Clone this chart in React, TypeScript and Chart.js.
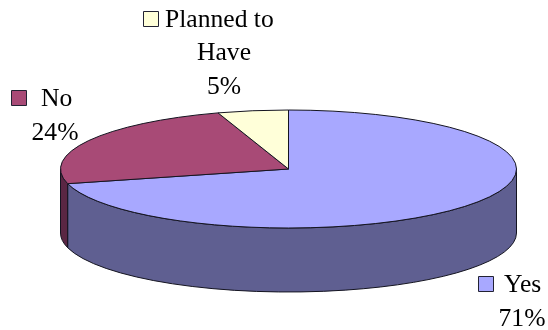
import React, { useEffect, useRef } from "react";
import { Chart, registerables } from "chart.js";

Chart.register(...registerables);

// Survey answers, in drawing order clockwise from twelve o'clock
const categories = ["Yes", "No", "Planned to Have"];
const shares = [71, 24, 5];
const labelLines = [["Yes"], ["No"], ["Planned to", "Have"]];
const topColors = ["#A8A8FF", "#A84A76", "#FFFFD9"];
const sideColors = ["#5F5F91", "#5A2643", "#8F8F78"];

// Tilted disc proportions on the canvas
const DISC = { rx: 228, ry: 59, depth: 64 };
const FONT = "25.6px 'Liberation Serif'";
const LINE_HEIGHT = 33.5;

// Per-slice label block: key square and first text baseline
const labelBlocks = [
  { keyX: 478.5, keyY: 276.5, keyW: 15, textX: 504, centerX: 522, baseline: 292 },
  { keyX: 11.5, keyY: 90.5, keyW: 15, textX: 41, centerX: 55, baseline: 106 },
  { keyX: 143.5, keyY: 11.5, keyW: 15, textX: 165, centerX: 224, baseline: 26.5 },
];

// Paints the pie's arc elements as an extruded ellipse, with their labels
const tiltedPie = {
  id: "tiltedPie",
  beforeDatasetDraw(chart: any) {
    const ctx: CanvasRenderingContext2D = chart.ctx;
    const arcs = chart.getDatasetMeta(0).data;
    const { rx, ry, depth } = DISC;
    ctx.save();
    ctx.lineWidth = 1;
    ctx.strokeStyle = "#141420";
    ctx.lineJoin = "round";

    arcs.forEach((arc: any, i: number) => {
      const a0 = Math.max(arc.startAngle, 0);
      const a1 = Math.min(arc.endAngle, Math.PI);
      if (a1 <= a0) return;
      ctx.beginPath();
      ctx.ellipse(arc.x, arc.y, rx, ry, 0, a0, a1);
      ctx.ellipse(arc.x, arc.y + depth, rx, ry, 0, a1, a0, true);
      ctx.closePath();
      ctx.fillStyle = sideColors[i];
      ctx.fill();
      ctx.stroke();
    });

    arcs.forEach((arc: any, i: number) => {
      ctx.beginPath();
      ctx.moveTo(arc.x, arc.y);
      ctx.ellipse(arc.x, arc.y, rx, ry, 0, arc.startAngle, arc.endAngle);
      ctx.closePath();
      ctx.fillStyle = topColors[i];
      ctx.fill();
      ctx.stroke();
    });

    ctx.font = FONT;
    ctx.textBaseline = "alphabetic";
    labelBlocks.forEach((b, i) => {
      ctx.fillStyle = topColors[i];
      ctx.strokeStyle = "#222233";
      ctx.fillRect(b.keyX, b.keyY, b.keyW, b.keyW);
      ctx.strokeRect(b.keyX, b.keyY, b.keyW, b.keyW);
      ctx.fillStyle = "#000000";
      const rows = [...labelLines[i], `${shares[i]}%`];
      rows.forEach((row, r) => {
        const y = b.baseline + r * LINE_HEIGHT;
        ctx.textAlign = r === 0 ? "left" : "center";
        ctx.fillText(row, r === 0 ? b.textX : b.centerX, y);
      });
    });
    ctx.restore();
    return false;
  },
};

export default function App() {
  const ref = useRef<HTMLCanvasElement>(null);
  useEffect(() => {
    document.body.style.margin = "0";
    const chart = new Chart(ref.current!, {
      type: "pie",
      data: {
        labels: categories,
        datasets: [{ data: shares, backgroundColor: topColors, borderWidth: 0 }],
      },
      options: {
        responsive: false,
        animation: false,
        layout: { padding: { left: 29, top: 8 } },
        plugins: { legend: { display: false }, tooltip: { enabled: false } },
      },
      plugins: [tiltedPie],
    });
    return () => chart.destroy();
  }, []);
  return <canvas ref={ref} width={548} height={330} style={{ display: "block" }} />;
}
